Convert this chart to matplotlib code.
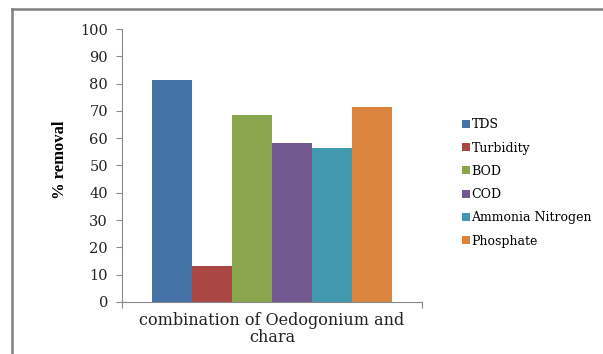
import matplotlib
matplotlib.use("Agg")
import matplotlib.pyplot as plt
from matplotlib.lines import Line2D

# % removal by the Oedogonium + chara combination
params = ["TDS", "Turbidity", "BOD", "COD", "Ammonia Nitrogen", "Phosphate"]
removal = [81.3, 13.0, 68.6, 58.1, 56.5, 71.5]
colors = ["#4572A7", "#AA4643", "#89A54E", "#71588F", "#4198AF", "#DB843D"]
group_label = "combination of Oedogonium and\nchara"
yticks = list(range(0, 101, 10))

fig = plt.figure(figsize=(6.03, 3.54), dpi=100)
ax = fig.add_axes([0.2023, 0.147, 0.4975, 0.771])

n = len(params)
w = 0.8 / n
for i in range(n):
    ax.bar(-0.4 + w * (i + 0.5), removal[i], width=w, color=colors[i],
           label=params[i], linewidth=0)

ax.set_xlim(-0.5, 0.5)
ax.set_ylim(0, 100)
ax.set_yticks(yticks)
ax.set_yticklabels([str(t) for t in yticks], family="DejaVu Serif",
                   fontsize=10.5, color="#222222")
ax.set_xticks([-0.5, 0.5])
ax.set_xticklabels(["", ""])
ax.set_xticks([0], minor=True)
ax.set_xticklabels([group_label], minor=True, family="DejaVu Serif",
                   fontsize=11.5, color="#222222", linespacing=1.0)
ax.tick_params(axis="x", which="minor", length=0, pad=7)
ax.tick_params(axis="x", which="major", length=4, color="#888888")
ax.tick_params(axis="y", length=4, color="#888888", pad=6)

for s in ["top", "right"]:
    ax.spines[s].set_visible(False)
for s in ["left", "bottom"]:
    ax.spines[s].set_color("#888888")
    ax.spines[s].set_linewidth(0.8)

ax.set_ylabel("% removal", family="Liberation Serif", fontweight="bold",
              fontsize=12)
ax.yaxis.set_label_coords(-0.18, 0.52)

leg = fig.legend(loc="upper left", bbox_to_anchor=(0.758, 0.68),
                 frameon=False, prop={"family": "DejaVu Serif", "size": 9},
                 handlelength=0.6, handleheight=0.6, handletextpad=0.15,
                 labelspacing=0.82, borderaxespad=0)

# chart frame: only the top and left edges fall inside the picture
fig.add_artist(Line2D([12 / 603, 1], [1 - 9 / 354] * 2,
                      transform=fig.transFigure, color="#808080", lw=1.8))
fig.add_artist(Line2D([12 / 603] * 2, [0, 1 - 9 / 354],
                      transform=fig.transFigure, color="#808080", lw=1.8))

fig.savefig("out.png", dpi=100)
